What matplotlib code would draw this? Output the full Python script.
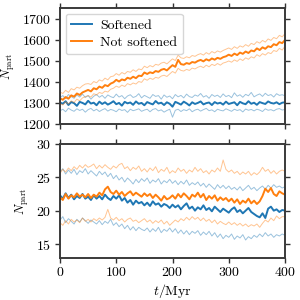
import numpy as np
import matplotlib
matplotlib.use("Agg")
import matplotlib.pyplot as plt

plt.rcParams.update({
    "font.family": "serif",
    "font.serif": ["cmr10", "DejaVu Serif"],
    "mathtext.fontset": "cm",
    "axes.unicode_minus": False,
    "axes.formatter.use_mathtext": True,
    "font.size": 10,
})

t = np.arange(0, 401, 5)

top_soft_mean = [1302,1296,1308,1290,1304,1299,1286,1305,1300,1293,
                 1310,1297,1301,1289,1306,1295,1303,1292,1299,1308,
                 1294,1300,1287,1305,1298,1302,1291,1307,1296,1300,
                 1289,1304,1298,1293,1309,1297,1301,1290,1303,1296,
                 1282,1305,1299,1292,1306,1298,1288,1303,1295,1300,
                 1307,1293,1299,1302,1290,1304,1297,1301,1292,1306,
                 1295,1299,1303,1289,1305,1298,1294,1308,1296,1301,
                 1291,1304,1299,1295,1307,1300,1297,1303,1294,1301,1303]
top_soft_upper = [1325,1335,1320,1340,1330,1322,1338,1328,1342,1326,
                  1335,1318,1332,1340,1327,1336,1322,1338,1330,1325,
                  1342,1328,1335,1320,1333,1339,1326,1331,1344,1324,
                  1336,1329,1322,1340,1331,1335,1318,1338,1327,1333,
                  1320,1340,1329,1336,1324,1342,1330,1326,1338,1332,
                  1345,1328,1335,1322,1340,1331,1337,1326,1343,1330,
                  1336,1325,1348,1332,1339,1327,1341,1334,1350,1329,
                  1337,1343,1331,1346,1335,1340,1328,1344,1336,1339,1334]
top_soft_lower = [1262,1270,1258,1275,1266,1260,1272,1264,1270,1256,
                  1268,1274,1262,1270,1259,1267,1273,1261,1269,1265,
                  1258,1271,1264,1268,1255,1270,1263,1267,1272,1260,
                  1266,1270,1258,1269,1273,1262,1267,1256,1264,1270,
                  1232,1265,1270,1259,1268,1263,1272,1258,1266,1270,
                  1261,1268,1274,1263,1267,1258,1270,1265,1262,1272,
                  1266,1260,1270,1264,1268,1257,1271,1265,1269,1262,
                  1270,1266,1259,1272,1265,1268,1262,1270,1273,1266,1269]

top_ns_mean = [1322,1315,1328,1320,1336,1330,1345,1338,1350,1356,
               1362,1355,1370,1365,1378,1372,1385,1380,1392,1398,
               1410,1402,1412,1408,1420,1415,1425,1418,1430,1428,
               1445,1438,1446,1442,1452,1448,1458,1462,1455,1468,
               1480,1472,1505,1485,1482,1490,1486,1495,1492,1500,
               1505,1498,1508,1502,1512,1506,1515,1510,1518,1522,
               1530,1524,1535,1528,1540,1534,1545,1538,1550,1546,
               1560,1552,1565,1558,1570,1566,1580,1575,1590,1585,1600]
top_ns_upper = [1352,1345,1360,1350,1368,1362,1375,1370,1382,1390,
                1392,1388,1402,1396,1410,1404,1418,1410,1425,1428,
                1440,1432,1445,1438,1450,1446,1458,1450,1462,1458,
                1475,1468,1478,1472,1484,1480,1490,1494,1486,1498,
                1510,1502,1528,1515,1512,1520,1515,1526,1522,1530,
                1535,1528,1540,1532,1545,1538,1548,1542,1550,1556,
                1562,1555,1568,1560,1572,1566,1578,1570,1584,1578,
                1592,1585,1598,1590,1605,1598,1612,1606,1622,1615,1630]
top_ns_lower = [1298,1290,1305,1295,1310,1302,1318,1310,1324,1330,
                1335,1328,1344,1338,1350,1345,1356,1352,1365,1370,
                1380,1374,1385,1378,1392,1386,1395,1390,1402,1398,
                1415,1408,1418,1412,1422,1418,1428,1432,1426,1438,
                1450,1442,1465,1455,1452,1460,1455,1466,1462,1470,
                1475,1468,1480,1472,1484,1478,1488,1480,1490,1494,
                1500,1494,1505,1498,1510,1502,1515,1508,1520,1514,
                1530,1522,1535,1528,1540,1535,1550,1545,1560,1552,1570]

bot_soft_mean = [22.3,21.8,22.6,21.9,22.4,21.7,22.2,21.9,22.5,21.8,
                 22.1,21.6,22.3,21.8,22.2,21.7,22.4,21.9,21.6,22.2,
                 21.8,22.3,21.5,21.9,21.2,21.6,20.9,21.5,21.1,21.3,
                 20.8,21.2,20.7,21.4,20.9,21.1,20.6,21.0,20.8,20.4,
                 20.9,20.5,20.8,20.2,20.7,21.1,20.3,20.6,20.0,20.5,
                 20.2,20.8,20.1,20.4,19.9,20.6,20.2,19.8,20.3,20.0,
                 19.7,20.2,20.5,19.8,20.1,19.6,20.0,20.4,19.8,19.5,
                 19.2,19.0,19.6,18.9,20.3,20.6,20.0,20.2,19.8,20.1,20.0]
bot_soft_upper = [25.8,26.3,25.5,26.1,25.6,26.2,25.4,26.0,25.7,26.3,
                  25.5,26.0,25.6,25.2,25.9,25.4,25.8,25.1,25.6,24.8,
                  25.3,24.6,25.0,24.3,24.9,24.5,24.0,24.7,24.2,24.8,
                  24.4,24.9,24.1,24.6,24.3,24.8,24.0,24.5,24.2,24.7,
                  24.1,24.5,23.9,24.4,24.0,24.6,23.8,24.2,23.9,24.3,
                  23.7,24.1,23.5,24.0,23.6,23.2,23.9,23.4,23.8,23.3,
                  23.7,23.2,23.5,23.1,23.6,23.0,23.4,23.8,23.2,23.5,
                  23.0,23.4,23.7,23.2,23.8,23.4,23.9,23.5,23.7,23.4,23.6]
bot_soft_lower = [18.6,19.1,18.2,18.8,18.4,18.0,18.7,18.3,18.9,18.5,
                  18.1,18.6,18.3,18.0,18.5,17.9,18.4,18.1,18.7,17.8,
                  18.2,17.6,18.0,17.3,17.8,17.1,17.6,17.0,17.5,17.2,
                  17.0,17.4,16.8,17.3,16.9,17.5,16.7,17.2,16.9,17.4,
                  16.8,17.3,16.6,17.1,16.5,17.0,16.4,16.9,16.6,17.0,
                  16.3,16.8,16.4,16.9,16.2,16.7,16.0,16.5,15.8,16.3,
                  16.0,16.5,15.7,16.2,15.9,16.4,15.6,16.1,15.8,16.3,
                  16.0,16.5,16.1,16.7,16.2,16.5,16.0,16.4,16.2,16.5,16.3]

bot_ns_mean = [22.0,21.6,22.5,21.8,22.3,22.0,22.6,22.1,22.4,22.0,
               22.5,21.9,22.4,22.1,22.7,22.3,23.2,23.6,22.8,22.5,
               23.0,22.4,22.8,22.2,22.6,22.9,22.3,22.7,22.4,22.1,
               22.6,22.2,22.5,21.9,22.4,22.0,21.5,22.2,21.7,21.9,
               22.3,21.8,22.5,22.0,22.6,22.2,21.7,22.4,22.1,22.7,
               22.0,22.5,21.6,22.2,21.8,22.3,21.5,22.0,21.6,21.9,
               21.4,21.8,21.2,21.7,21.0,21.5,21.2,21.8,21.1,21.5,
               21.0,21.4,22.2,23.3,22.8,23.4,22.5,22.2,22.9,22.6,22.4]
bot_ns_upper = [25.6,26.2,25.8,26.4,26.0,26.6,26.2,26.8,26.4,26.9,
                26.5,26.7,27.0,26.3,26.8,26.4,26.9,26.5,26.2,26.7,
                26.4,26.9,27.1,26.3,26.6,26.0,26.5,26.2,26.7,25.9,
                26.3,25.8,26.4,26.0,26.6,25.7,26.2,25.9,26.5,25.6,
                26.0,25.7,26.4,25.9,26.2,25.6,26.1,25.8,26.5,25.9,
                26.3,25.7,26.0,25.5,26.1,25.8,26.4,25.9,27.6,26.2,
                25.8,26.1,25.6,25.9,25.4,25.8,25.5,25.9,25.3,25.7,
                25.4,25.8,26.5,25.9,26.2,25.6,26.0,25.5,25.9,26.1,25.9]
bot_ns_lower = [18.2,17.8,18.5,18.0,18.7,18.3,18.6,18.2,18.9,18.4,
                18.7,18.3,18.8,18.5,18.9,18.6,19.0,20.2,18.9,18.6,
                19.0,18.5,18.8,18.3,18.7,18.9,18.4,18.6,18.2,18.5,
                18.8,18.3,18.6,18.1,18.5,18.2,18.6,18.0,18.4,17.8,
                18.2,18.6,18.3,18.8,18.5,19.0,18.6,19.1,18.7,19.0,
                18.5,18.9,18.4,18.7,18.2,18.6,18.0,18.4,18.1,17.9,
                18.3,17.9,18.2,17.8,18.1,17.7,18.0,17.6,17.9,17.7,
                18.0,17.5,18.1,18.6,18.3,18.9,18.5,19.2,18.8,19.1,19.1]

labels = ["Softened", "Not softened"]
colors = ["#1f77b4", "#ff7f0e"]

fig = plt.figure(figsize=(3, 3), dpi=100)
ax1 = fig.add_axes([0.2, 0.587, 0.75, 0.386])
ax2 = fig.add_axes([0.2, 0.14, 0.75, 0.38])

panels = [
    (ax1, [(top_soft_mean, top_soft_upper, top_soft_lower),
           (top_ns_mean, top_ns_upper, top_ns_lower)]),
    (ax2, [(bot_soft_mean, bot_soft_upper, bot_soft_lower),
           (bot_ns_mean, bot_ns_upper, bot_ns_lower)]),
]

for ax, series in panels:
    for (m, u, l), c, lab in zip(series, colors, labels):
        ax.plot(t, u, color=c, lw=0.7, alpha=0.45)
        ax.plot(t, l, color=c, lw=0.7, alpha=0.45)
        ax.plot(t, m, color=c, lw=1.4, label=lab)
    ax.set_xlim(0, 400)
    ax.set_xticks([0, 100, 200, 300, 400])
    ax.tick_params(direction="out", top=True, right=True, length=3.5, width=1.0,
                   color="#333333", labelsize=10, pad=2.5)
    for s in ax.spines.values():
        s.set_linewidth(1.4)
        s.set_color("#3a3a3a")
    ax.set_ylabel(r"$N_\mathrm{part}$", fontsize=9, labelpad=4)

ax1.set_ylim(1200, 1752)
ax1.set_yticks([1200, 1300, 1400, 1500, 1600, 1700])
ax1.tick_params(labelbottom=False)
ax2.set_ylim(12.9, 30)
ax2.set_yticks([15, 20, 25, 30])
ax2.set_xlabel(r"$t/\mathrm{Myr}$", fontsize=10, labelpad=2)

ax1.legend(loc="upper left", fontsize=10, frameon=True, fancybox=True,
           edgecolor="#cccccc", handlelength=1.5, borderpad=0.4,
           labelspacing=0.3, handletextpad=0.6, borderaxespad=0.4)

fig.align_ylabels([ax1, ax2])
fig.savefig("out.png", dpi=100)
